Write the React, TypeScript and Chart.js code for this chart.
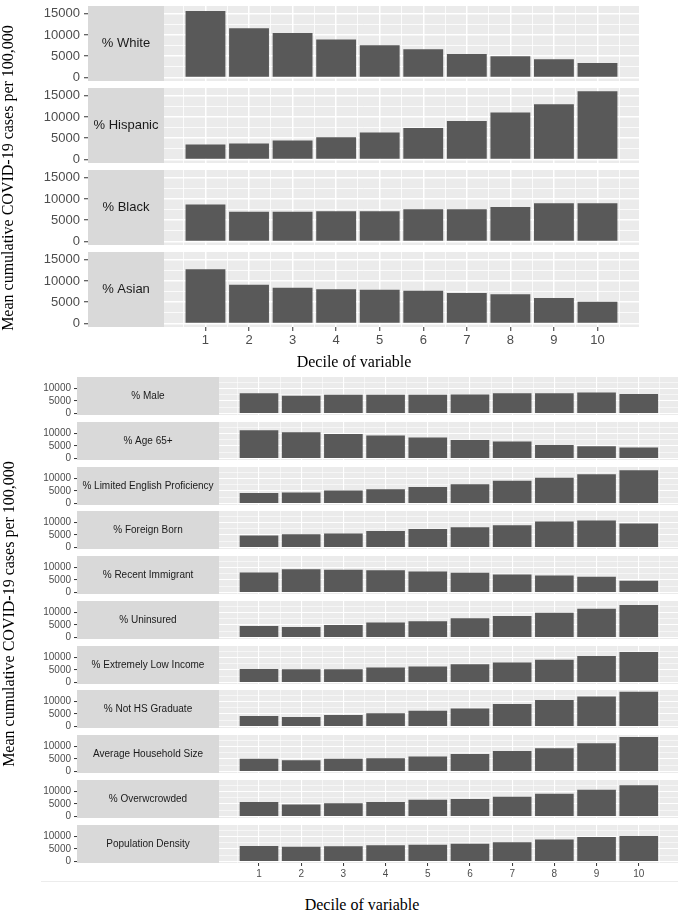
import React, { useEffect, useRef } from 'react';
import { Chart, registerables } from 'chart.js';

Chart.register(...registerables);

const FONT_SANS = '"Liberation Sans", Arial, Helvetica, sans-serif';
const FONT_SERIF = '"Liberation Serif", "Times New Roman", serif';

// ---------- data ----------
const deciles = [1, 2, 3, 4, 5, 6, 7, 8, 9, 10];

const topFacetLabels = ['% White', '% Hispanic', '% Black', '% Asian'];
const whiteValues = [15600, 11500, 10400, 8860, 7500, 6560, 5450, 4900, 4190, 3320];
const hispanicValues = [3390, 3630, 4340, 5130, 6240, 7350, 9000, 10970, 12950, 16000];
const blackValues = [8600, 6880, 6880, 7030, 7000, 7500, 7500, 8050, 8900, 8900];
const asianValues = [12700, 9050, 8350, 7960, 7870, 7640, 7100, 6800, 5930, 5000];

const bottomFacetLabels = [
  '% Male',
  '% Age 65+',
  '% Limited English Proficiency',
  '% Foreign Born',
  '% Recent Immigrant',
  '% Uninsured',
  '% Extremely Low Income',
  '% Not HS Graduate',
  'Average Household Size',
  '% Overwcrowded',
  'Population Density',
];
const maleValues = [8000, 7000, 7400, 7400, 7400, 7500, 8000, 8000, 8250, 7700];
const age65Values = [11200, 10400, 9700, 9070, 8260, 7300, 6640, 5300, 4740, 4200];
const lepValues = [4000, 4200, 5000, 5600, 6500, 7600, 8950, 10200, 11600, 13300];
const foreignBornValues = [4650, 5200, 5450, 6500, 7300, 8000, 8800, 10300, 10700, 9500];
const recentImmigrantValues = [7900, 9200, 9000, 8800, 8300, 7800, 7100, 6700, 6150, 4500];
const uninsuredValues = [4400, 4000, 4800, 5900, 6400, 7600, 8450, 9800, 11400, 12900];
const lowIncomeValues = [5300, 5100, 5100, 5900, 6300, 7200, 7900, 9000, 10500, 12100];
const notHsGradValues = [4000, 3600, 4400, 5100, 6200, 7100, 8900, 10500, 11900, 13900];
const householdSizeValues = [4900, 4300, 4900, 5100, 5900, 6900, 8100, 9150, 11200, 13800];
const overcrowdedValues = [5700, 4600, 5200, 5700, 6600, 6900, 7800, 9000, 10600, 12400];
const popDensityValues = [6100, 5800, 6000, 6350, 6600, 7000, 7600, 8700, 9700, 10100];

const topSeries = [whiteValues, hispanicValues, blackValues, asianValues];
const bottomSeries = [
  maleValues, age65Values, lepValues, foreignBornValues, recentImmigrantValues,
  uninsuredValues, lowIncomeValues, notHsGradValues, householdSizeValues,
  overcrowdedValues, popDensityValues,
];

// y grid positions (major + minor) and the labelled ticks
const topYGrid = [0, 2500, 5000, 7500, 10000, 12500, 15000];
const topYTickLabels = [0, 5000, 10000, 15000];
const bottomYGrid = [0, 2500, 5000, 7500, 10000, 12500];
const bottomYTickLabels = [0, 5000, 10000];
// x grid positions (major at deciles, minor at halves)
const topXGrid = [-1.5, -1, -0.5, 0, 0.5, 1, 1.5, 2, 2.5, 3, 3.5, 4, 4.5, 5, 5.5, 6, 6.5, 7, 7.5, 8, 8.5, 9, 9.5, 10, 10.5];
const bottomXGrid = [-3, -2.5, -2, -1.5, -1, -0.5, 0, 0.5, 1, 1.5, 2, 2.5, 3, 3.5, 4, 4.5, 5, 5.5, 6, 6.5, 7, 7.5, 8, 8.5, 9, 9.5, 10, 10.5];

const yTitle = 'Mean cumulative COVID-19 cases per 100,000';
const xTitle = 'Decile of variable';

// ---------- layout ----------
interface Geom {
  left: number; right: number; stripRight: number;
  xMin: number; xMax: number; yMin: number; yMax: number;
  height: number; margin: number; fontSize: number;
  tickLen: number; yPad: number; xPad: number; axisH: number;
  major: number; minor: number;
  yGrid: number[]; yLabelled: number[]; xGrid: number[];
}

const topGeom: Geom = {
  left: 88, right: 639, stripRight: 164,
  xMin: -1.697, xMax: 10.953, yMin: -880, yMax: 16860,
  height: 75, margin: 12, fontSize: 13,
  tickLen: 4, yPad: 4, xPad: 2, axisH: 24,
  major: 1.5, minor: 0.8,
  yGrid: topYGrid, yLabelled: topYTickLabels, xGrid: topXGrid,
};
const bottomGeom: Geom = {
  left: 77, right: 678, stripRight: 219,
  xMin: -3.313, xMax: 10.93, yMin: -690, yMax: 14700,
  height: 38, margin: 12, fontSize: 10,
  tickLen: 3, yPad: 3, xPad: 2, axisH: 18,
  major: 1.1, minor: 0.55,
  yGrid: bottomYGrid, yLabelled: bottomYTickLabels, xGrid: bottomXGrid,
};
const topFacetTops = [6, 88, 170, 252];
const bottomFacetTops = [377, 422, 467, 511, 556, 601, 646, 690, 735, 780, 825];

function FacetChart(props: { label: string; values: number[]; top: number; geom: Geom; showX: boolean }) {
  const { label, values, top, geom: g, showX } = props;
  const ref = useRef<HTMLCanvasElement>(null);
  const canvasH = g.margin + g.height + (showX ? g.axisH : g.margin);

  useEffect(() => {
    const unitPx = (g.right - g.left) / (g.xMax - g.xMin);
    const decor = {
      id: 'facetDecor',
      beforeDraw(chart: any) {
        const { ctx, chartArea: a } = chart;
        ctx.save();
        ctx.fillStyle = '#EBEBEB';
        ctx.fillRect(a.left, a.top, a.right - a.left, a.bottom - a.top);
        ctx.restore();
      },
      beforeDatasetsDraw(chart: any) {
        const { ctx, chartArea: a } = chart;
        ctx.save();
        ctx.fillStyle = '#D9D9D9';
        ctx.fillRect(a.left, a.top, g.stripRight - a.left, a.bottom - a.top);
        ctx.fillStyle = '#1A1A1A';
        ctx.font = `${g.fontSize}px ${FONT_SANS}`;
        ctx.textAlign = 'center';
        ctx.textBaseline = 'middle';
        ctx.fillText(label, (a.left + g.stripRight) / 2, (a.top + a.bottom) / 2);
        ctx.restore();
      },
    };

    const isXLabel = (v: number) => deciles.some((d) => Math.abs(d - v) < 1e-6);
    const isYLabel = (v: number) => g.yLabelled.some((d) => Math.abs(d - v) < 1e-6);
    const isInt = (v: number) => Math.abs(v - Math.round(v)) < 1e-6;

    const chart = new Chart(ref.current as HTMLCanvasElement, {
      type: 'bar',
      data: {
        datasets: [
          {
            data: deciles.map((d, i) => ({ x: d, y: values[i] })),
            backgroundColor: '#595959',
            borderWidth: 0,
            barThickness: unitPx * 0.9,
          } as any,
        ],
      },
      options: {
        animation: false,
        responsive: false,
        devicePixelRatio: 1,
        layout: { padding: { top: g.margin, bottom: showX ? 0 : g.margin, left: 0, right: 0 } },
        plugins: { legend: { display: false }, tooltip: { enabled: false } },
        scales: {
          x: {
            type: 'linear',
            position: 'bottom',
            min: g.xMin,
            max: g.xMax,
            offset: false,
            border: { display: false },
            grid: {
              offset: false,
              color: '#FFFFFF',
              lineWidth: (c: any) => (c.tick && isInt(c.tick.value) ? g.major : g.minor),
              drawTicks: showX,
              tickLength: g.tickLen,
              tickWidth: 1,
              tickColor: (c: any) => (c.tick && isXLabel(c.tick.value) ? '#333333' : 'rgba(0,0,0,0)'),
            },
            ticks: {
              display: showX,
              autoSkip: false,
              maxRotation: 0,
              minRotation: 0,
              padding: g.xPad,
              color: '#4D4D4D',
              font: { size: g.fontSize, family: FONT_SANS },
              callback: (v: any) => (isXLabel(Number(v)) ? String(Math.round(Number(v))) : ''),
            },
            afterBuildTicks: (s: any) => { s.ticks = g.xGrid.map((v) => ({ value: v })); },
            afterFit: (s: any) => { s.height = showX ? g.axisH : 0; },
          } as any,
          y: {
            type: 'linear',
            position: 'left',
            min: g.yMin,
            max: g.yMax,
            border: { display: false },
            grid: {
              color: '#FFFFFF',
              lineWidth: (c: any) => (c.tick && Math.abs(c.tick.value % 5000) < 1e-6 ? g.major : g.minor),
              drawTicks: true,
              tickLength: g.tickLen,
              tickWidth: 1,
              tickColor: (c: any) => (c.tick && isYLabel(c.tick.value) ? '#333333' : 'rgba(0,0,0,0)'),
            },
            ticks: {
              display: true,
              autoSkip: false,
              padding: g.yPad,
              color: '#4D4D4D',
              font: { size: g.fontSize, family: FONT_SANS },
              callback: (v: any) => (isYLabel(Number(v)) ? String(Math.round(Number(v))) : ''),
            },
            afterBuildTicks: (s: any) => { s.ticks = g.yGrid.map((v) => ({ value: v })); },
            afterFit: (s: any) => { s.width = g.left; },
          } as any,
        },
      },
      plugins: [decor],
    });
    return () => chart.destroy();
  }, []);

  return (
    <canvas
      ref={ref}
      width={g.right}
      height={canvasH}
      style={{ position: 'absolute', left: 0, top: top - g.margin, width: g.right, height: canvasH }}
    />
  );
}

function Title(props: { text: string; cx: number; cy: number; rotate?: boolean }) {
  return (
    <div
      style={{
        position: 'absolute',
        left: props.cx,
        top: props.cy,
        transform: `translate(-50%, -50%)${props.rotate ? ' rotate(-90deg)' : ''}`,
        whiteSpace: 'nowrap',
        fontFamily: FONT_SERIF,
        fontSize: 16,
        lineHeight: '16px',
        color: '#000000',
      }}
    >
      {props.text}
    </div>
  );
}

export default function App() {
  return (
    <div style={{ position: 'absolute', left: 0, top: 0, width: 685, height: 911, background: '#FFFFFF', overflow: 'hidden' }}>
      {topFacetLabels.map((lab, i) => (
        <FacetChart key={'t' + i} label={lab} values={topSeries[i]} top={topFacetTops[i]} geom={topGeom} showX={i === topFacetLabels.length - 1} />
      ))}
      {bottomFacetLabels.map((lab, i) => (
        <FacetChart key={'b' + i} label={lab} values={bottomSeries[i]} top={bottomFacetTops[i]} geom={bottomGeom} showX={i === bottomFacetLabels.length - 1} />
      ))}
      <div style={{ position: 'absolute', left: 41, top: 881, width: 637, height: 1, background: '#ECECEC' }} />
      <Title text={yTitle} cx={8} cy={177.5} rotate />
      <Title text={xTitle} cx={354} cy={361.5} />
      <Title text={yTitle} cx={9} cy={613.5} rotate />
      <Title text={xTitle} cx={362} cy={905} />
    </div>
  );
}
